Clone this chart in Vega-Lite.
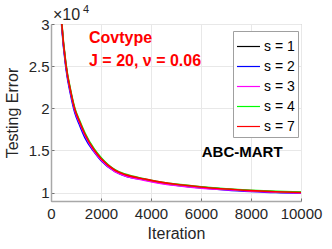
{
  "$schema": "https://vega.github.io/schema/vega-lite/v6.json",
  "autosize": "none",
  "width": 250,
  "height": 177,
  "padding": {"left": 51, "top": 24, "right": 31, "bottom": 48},
  "background": "white",
  "config": {
    "font": "Liberation Sans",
    "view": {"stroke": "#a8a8a8", "strokeWidth": 1},
    "axis": {
      "labelFont": "Liberation Sans", "labelFontSize": 15, "labelColor": "#262626",
      "titleFont": "Liberation Sans", "titleFontSize": 16, "titleFontWeight": "normal", "titleColor": "#262626",
      "domainColor": "#a8a8a8", "domainWidth": 1.5,
      "tickColor": "#707070", "tickSize": -3,
      "gridColor": "#e8e8e8", "gridWidth": 1
    }
  },
  "layer": [
    {
      "data": {"values": [
        {"s":"s = 1","t":350,"e":34000},{"s":"s = 1","t":430,"e":30000},{"s":"s = 1","t":600,"e":25000},{"s":"s = 1","t":800,"e":21700},{"s":"s = 1","t":960,"e":19700},{"s":"s = 1","t":1130,"e":18400},{"s":"s = 1","t":1360,"e":16800},{"s":"s = 1","t":1730,"e":15000},{"s":"s = 1","t":2000,"e":14000},{"s":"s = 1","t":2560,"e":12600},{"s":"s = 1","t":3000,"e":12050},{"s":"s = 1","t":3760,"e":11550},{"s":"s = 1","t":4000,"e":11400},{"s":"s = 1","t":5000,"e":10930},{"s":"s = 1","t":6000,"e":10620},{"s":"s = 1","t":7000,"e":10400},{"s":"s = 1","t":8000,"e":10220},{"s":"s = 1","t":9000,"e":10090},{"s":"s = 1","t":10000,"e":10000},
        {"s":"s = 2","t":350,"e":33700},{"s":"s = 2","t":430,"e":29700},{"s":"s = 2","t":600,"e":24700},{"s":"s = 2","t":800,"e":21400},{"s":"s = 2","t":960,"e":19400},{"s":"s = 2","t":1130,"e":18100},{"s":"s = 2","t":1360,"e":16500},{"s":"s = 2","t":1730,"e":14800},{"s":"s = 2","t":2000,"e":13800},{"s":"s = 2","t":2560,"e":12480},{"s":"s = 2","t":3000,"e":11930},{"s":"s = 2","t":3760,"e":11500},{"s":"s = 2","t":4000,"e":11350},{"s":"s = 2","t":5000,"e":10880},{"s":"s = 2","t":6000,"e":10570},{"s":"s = 2","t":7000,"e":10320},{"s":"s = 2","t":8000,"e":10140},{"s":"s = 2","t":9000,"e":10010},{"s":"s = 2","t":10000,"e":9950},
        {"s":"s = 3","t":350,"e":33970},{"s":"s = 3","t":430,"e":29970},{"s":"s = 3","t":600,"e":24970},{"s":"s = 3","t":800,"e":21670},{"s":"s = 3","t":960,"e":19670},{"s":"s = 3","t":1130,"e":18370},{"s":"s = 3","t":1360,"e":16770},{"s":"s = 3","t":1730,"e":14900},{"s":"s = 3","t":2000,"e":13900},{"s":"s = 3","t":2560,"e":12500},{"s":"s = 3","t":3000,"e":11950},{"s":"s = 3","t":3760,"e":11450},{"s":"s = 3","t":4000,"e":11300},{"s":"s = 3","t":5000,"e":10830},{"s":"s = 3","t":6000,"e":10520},{"s":"s = 3","t":7000,"e":10350},{"s":"s = 3","t":8000,"e":10170},{"s":"s = 3","t":9000,"e":10040},{"s":"s = 3","t":10000,"e":9950},
        {"s":"s = 4","t":350,"e":34250},{"s":"s = 4","t":430,"e":30250},{"s":"s = 4","t":600,"e":25250},{"s":"s = 4","t":800,"e":21950},{"s":"s = 4","t":960,"e":19950},{"s":"s = 4","t":1130,"e":18650},{"s":"s = 4","t":1360,"e":17050},{"s":"s = 4","t":1730,"e":15170},{"s":"s = 4","t":2000,"e":14170},{"s":"s = 4","t":2560,"e":12710},{"s":"s = 4","t":3000,"e":12160},{"s":"s = 4","t":3760,"e":11620},{"s":"s = 4","t":4000,"e":11470},{"s":"s = 4","t":5000,"e":11000},{"s":"s = 4","t":6000,"e":10690},{"s":"s = 4","t":7000,"e":10450},{"s":"s = 4","t":8000,"e":10270},{"s":"s = 4","t":9000,"e":10140},{"s":"s = 4","t":10000,"e":10050},
        {"s":"s = 7","t":350,"e":34120},{"s":"s = 7","t":430,"e":30120},{"s":"s = 7","t":600,"e":25120},{"s":"s = 7","t":800,"e":21820},{"s":"s = 7","t":960,"e":19820},{"s":"s = 7","t":1130,"e":18520},{"s":"s = 7","t":1360,"e":16920},{"s":"s = 7","t":1730,"e":15050},{"s":"s = 7","t":2000,"e":14050},{"s":"s = 7","t":2560,"e":12650},{"s":"s = 7","t":3000,"e":12100},{"s":"s = 7","t":3760,"e":11600},{"s":"s = 7","t":4000,"e":11450},{"s":"s = 7","t":5000,"e":10980},{"s":"s = 7","t":6000,"e":10670},{"s":"s = 7","t":7000,"e":10415},{"s":"s = 7","t":8000,"e":10235},{"s":"s = 7","t":9000,"e":10105},{"s":"s = 7","t":10000,"e":10015}
      ]},
      "mark": {"type": "line", "clip": true, "strokeWidth": 1.6, "interpolate": "monotone"},
      "encoding": {
        "x": {"field": "t", "type": "quantitative", "title": "Iteration",
              "scale": {"domain": [0, 10000], "nice": false},
              "axis": {"values": [0, 2000, 4000, 6000, 8000, 10000], "format": "d", "labelPadding": 8, "titlePadding": 4, "labelFlush": false}},
        "y": {"field": "e", "type": "quantitative", "title": "Testing Error",
              "scale": {"domain": [9000, 30000], "nice": false, "zero": false},
              "axis": {"values": [10000, 15000, 20000, 25000, 30000], "labelExpr": "format(datum.value/10000, '.2~f')", "labelPadding": 5, "titlePadding": 8, "labelFlush": false}},
        "color": {"field": "s", "type": "nominal",
                  "scale": {"domain": ["s = 1", "s = 2", "s = 3", "s = 4", "s = 7"], "range": ["#000000", "#0000ff", "#ff00ff", "#00ff00", "#ff0000"]},
                  "legend": {"title": null, "orient": "none", "legendX": 182, "legendY": 7,
                             "strokeColor": "#a0a0a0", "fillColor": "white", "padding": 3,
                             "symbolType": "stroke", "symbolSize": 529, "symbolStrokeWidth": 1.2,
                             "labelFont": "Liberation Sans", "labelFontSize": 14, "labelColor": "#000000", "labelOffset": 3, "rowPadding": -5}}
      }
    },
    {
      "data": {"values": [{"label": "Covtype", "t": 1520, "e": 28340}, {"label": "J = 20, ν = 0.06", "t": 1520, "e": 25650}]},
      "mark": {"type": "text", "align": "left", "baseline": "middle", "font": "Liberation Sans", "fontSize": 16, "fontWeight": "bold", "color": "#ff0000"},
      "encoding": {"x": {"field": "t", "type": "quantitative"}, "y": {"field": "e", "type": "quantitative"}, "text": {"field": "label"}}
    },
    {
      "data": {"values": [{"label": "ABC-MART", "t": 6030, "e": 14850}]},
      "mark": {"type": "text", "align": "left", "baseline": "middle", "font": "Liberation Sans", "fontSize": 15, "fontWeight": "bold", "color": "#000000"},
      "encoding": {"x": {"field": "t", "type": "quantitative"}, "y": {"field": "e", "type": "quantitative"}, "text": {"field": "label"}}
    },
    {
      "data": {"values": [{"label": "×10", "t": 0, "e": 30000}]},
      "mark": {"type": "text", "align": "left", "baseline": "alphabetic", "dx": 2, "dy": -4, "font": "Liberation Sans", "fontSize": 16, "color": "#262626"},
      "encoding": {"x": {"field": "t", "type": "quantitative"}, "y": {"field": "e", "type": "quantitative"}, "text": {"field": "label"}}
    },
    {
      "data": {"values": [{"label": "4", "t": 0, "e": 30000}]},
      "mark": {"type": "text", "align": "left", "baseline": "alphabetic", "dx": 32, "dy": -11, "font": "Liberation Sans", "fontSize": 11, "color": "#262626"},
      "encoding": {"x": {"field": "t", "type": "quantitative"}, "y": {"field": "e", "type": "quantitative"}, "text": {"field": "label"}}
    }
  ]
}
